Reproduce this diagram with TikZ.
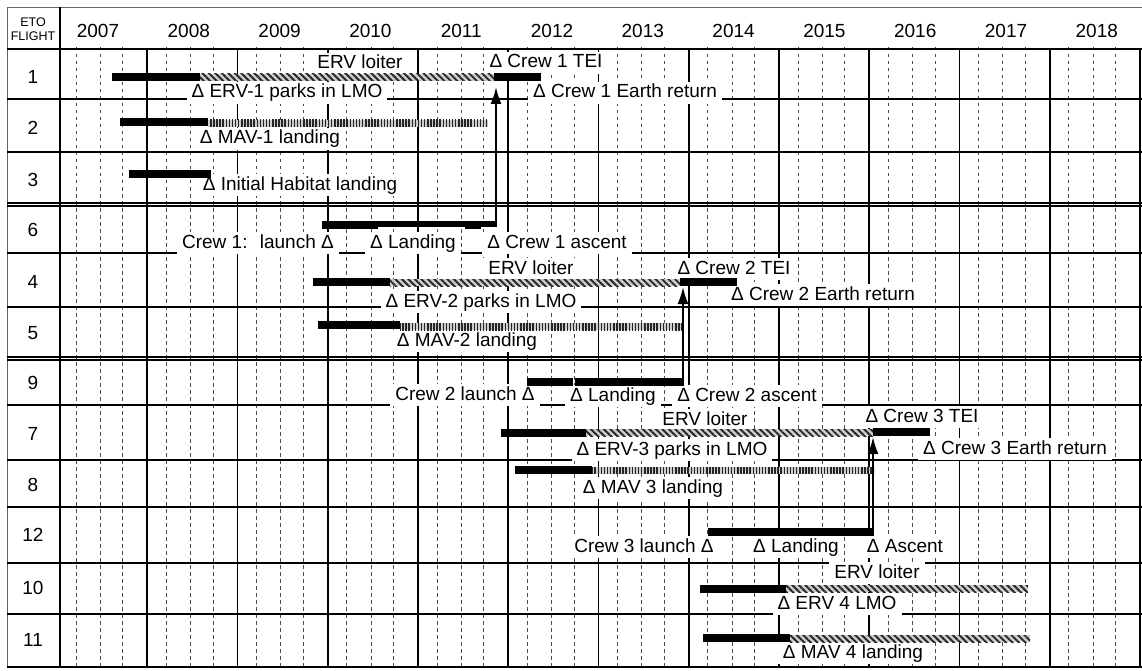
\documentclass[tikz,border=0pt]{standalone}
\usepackage{fontspec}
\setmainfont{Liberation Sans}
\usetikzlibrary{arrows.meta,patterns.meta}

\begin{document}
\begin{tikzpicture}[x=1pt,y=-1pt,
  lbl/.style={fill=white,inner xsep=5pt,inner ysep=2.5pt,text height=13.5pt,text depth=3.5pt,font=\fontsize{19}{21}\selectfont},
  num/.style={font=\fontsize{19}{21}\selectfont},
  bar/.style={fill=black},
  ervbar/.style={preaction={fill=gray!40},pattern={Lines[angle=-45,distance=4.6pt,line width=1.9pt]},pattern color=black!85},
  mavbar/.style={preaction={fill=gray!40},pattern={Lines[angle=90,distance=3.1pt,line width=1.5pt]},pattern color=black!85},
  qline/.style={black!70,line width=0.8pt,dash pattern=on 3.5pt off 3.5pt},
  yline/.style={line width=1.6pt},
  rline/.style={line width=1.4pt},
  heavy/.style={line width=2.6pt},
  crewarrow/.style={line width=2pt,-{Latex[length=17pt,width=11pt]}}]
\useasboundingbox (0,0) rectangle (1142,671);

\draw[black!60,line width=0.9pt] (7,667) -- (7,7) -- (1142,7);
\foreach \i in {0,...,11}
  \foreach \f in {0.21,0.48,0.73}
    \draw[qline] ({57+90.25*(\i+\f)},47) -- ({57+90.25*(\i+\f)},667);
\foreach \i in {1,...,12}
  \draw[yline] ({57+90.25*\i},49) -- ({57+90.25*\i},667);
\foreach \y in {99,152,203,206,253,307,357,360,405,460,563,614}
  \draw[rline] (7,\y) -- (1142,\y);
\draw[heavy] (7,49) -- (1142,49);
\draw[heavy] (7,507) -- (1142,507);
\draw[heavy] (7,667) -- (1142,667);
\draw[heavy] (60,7) -- (60,667);

\node[align=center,font=\fontsize{12.5}{14}\selectfont] (eto) at (33,29) {ETO\\FLIGHT};
\foreach \yr [count=\i from 0] in {2007,...,2018}
  \node[num] (y\yr) at ({98+90.8*\i},31) {\yr};
\foreach \n/\y in {1/77,2/128,3/180,6/230,4/282,5/333,9/383,7/434,8/485,12/535,10/588,11/640}
  \node[num] (f\n) at (33,\y) {\n};

\node[lbl] (loiter1) at (360,64) {ERV loiter};
\node[lbl] (tei1) at (546,63) {Δ Crew 1 TEI};
\node[lbl] (park1) at (287,93) {Δ ERV-1 parks in LMO};
\node[lbl] (ret1) at (625,93) {Δ Crew 1 Earth return};
\node[lbl] (mav1) at (270,139) {Δ MAV-1 landing};
\node[lbl] (hab) at (300,185) {Δ Initial Habitat landing};
\node[lbl] (launch1) at (258,243) {Crew 1:~ launch Δ};
\node[lbl] (land1) at (413,243) {Δ Landing};
\node[lbl] (ascent1) at (557,243) {Δ Crew 1 ascent};
\node[lbl] (loiter2) at (531,269) {ERV loiter};
\node[lbl] (tei2) at (734,269) {Δ Crew 2 TEI};
\node[lbl] (park2) at (481,302) {Δ ERV-2 parks in LMO};
\node[lbl] (ret2) at (823,295) {Δ Crew 2 Earth return};
\node[lbl] (mav2) at (467,341) {Δ MAV-2 landing};
\node[lbl] (launch2) at (465,395) {Crew 2 launch Δ};
\node[lbl] (land2) at (613,396) {Δ Landing};
\node[lbl] (ascent2) at (747,396) {Δ Crew 2 ascent};
\node[lbl] (loiter3) at (705,420) {ERV loiter};
\node[lbl] (tei3) at (922,417) {Δ Crew 3 TEI};
\node[lbl] (park3) at (672,450) {Δ ERV-3 parks in LMO};
\node[lbl] (ret3) at (1015,449) {Δ Crew 3 Earth return};
\node[lbl] (mav3) at (653,488) {Δ MAV 3 landing};
\node[lbl] (launch3) at (644,547) {Crew 3 launch Δ};
\node[lbl] (land3) at (796,547) {Δ Landing};
\node[lbl] (ascent3) at (905,547) {Δ Ascent};
\node[lbl] (loiter4) at (877,573) {ERV loiter};
\node[lbl] (erv4) at (837,604) {Δ ERV 4 LMO};
\node[lbl] (mav4) at (853,653) {Δ MAV 4 landing};

\fill[bar] (112,73) rectangle (200,81);
\fill[ervbar] (200,74) rectangle (494,81);
\fill[bar] (494,73) rectangle (541,81);
\fill[bar] (120,118) rectangle (208,126);
\fill[mavbar] (208,120) rectangle (488,127);
\fill[bar] (129,170) rectangle (211,178);
\fill[bar] (322,221) rectangle (378,229);
\fill[bar] (378,221) rectangle (496,227);
\fill[bar] (465,221) rectangle (481,229);
\fill[bar] (313,278) rectangle (390,286);
\fill[ervbar] (390,279) rectangle (680,286);
\fill[bar] (680,278) rectangle (737,286);
\fill[bar] (318,321) rectangle (400,329);
\fill[mavbar] (400,323) rectangle (682,330);
\fill[bar] (527,378) rectangle (573,386);
\fill[bar] (575,378) rectangle (682,386);
\fill[bar] (501,429) rectangle (586,437);
\fill[ervbar] (586,429) rectangle (873,436);
\fill[bar] (873,428) rectangle (930,436);
\fill[bar] (515,466) rectangle (592,474);
\fill[mavbar] (592,467) rectangle (874,474);
\fill[bar] (708,528) rectangle (873,536);
\fill[bar] (700,585) rectangle (786,593);
\fill[ervbar] (786,585) rectangle (1028,592);
\fill[bar] (703,634) rectangle (790,642);
\fill[ervbar] (790,635) rectangle (1030,642);

\coordinate (up1) at (496,227);
\coordinate (down1) at (496,87);
\coordinate (up2) at (683,386);
\coordinate (down2) at (683,287);
\coordinate (up3) at (873,536);
\coordinate (down3) at (873,437);
\draw[crewarrow] (up1) -- (down1);
\draw[crewarrow] (up2) -- (down2);
\draw[crewarrow] (up3) -- (down3);
\end{tikzpicture}
\end{document}
